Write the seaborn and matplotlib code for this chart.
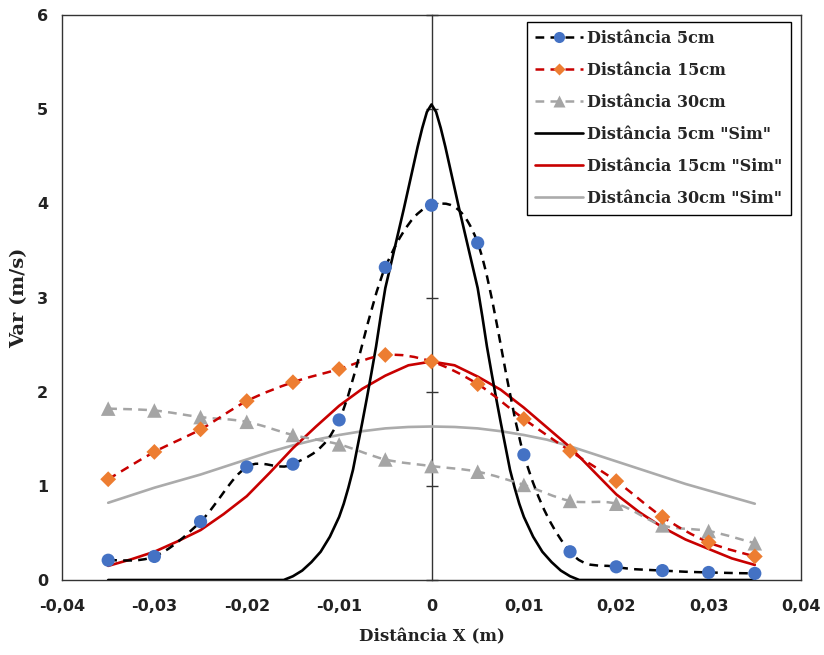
import numpy as np
import pandas as pd
import matplotlib
matplotlib.use("Agg")
import matplotlib.pyplot as plt
import seaborn as sns
from matplotlib.path import Path
from matplotlib.patches import PathPatch
from matplotlib.lines import Line2D

# ---------------- data ----------------
x_exp = [-0.035, -0.03, -0.025, -0.02, -0.015, -0.01, -0.005, 0.0,
         0.005, 0.01, 0.015, 0.02, 0.025, 0.03, 0.035]
v_5cm = [0.21, 0.25, 0.62, 1.20, 1.23, 1.70, 3.32, 3.98,
         3.58, 1.33, 0.30, 0.14, 0.10, 0.08, 0.07]
v_15cm = [1.07, 1.36, 1.60, 1.90, 2.10, 2.24, 2.39, 2.32,
          2.08, 1.71, 1.37, 1.05, 0.67, 0.40, 0.25]
v_30cm = [1.82, 1.80, 1.73, 1.68, 1.54, 1.44, 1.28, 1.21,
          1.15, 1.01, 0.84, 0.81, 0.58, 0.52, 0.39]

x_sim5 = [-0.035, -0.02, -0.016, -0.015, -0.014, -0.013, -0.012, -0.011, -0.010,
          -0.0095, -0.009, -0.0085, -0.008, -0.0075, -0.007, -0.0065, -0.006,
          -0.0055, -0.005, -0.004, -0.003, -0.002, -0.0015, -0.001, -0.0005, 0.0,
          0.0005, 0.001, 0.0015, 0.002, 0.003, 0.004, 0.005, 0.0055, 0.006, 0.0065,
          0.007, 0.0075, 0.008, 0.0085, 0.009, 0.0095, 0.010, 0.011, 0.012,
          0.013, 0.014, 0.015, 0.016, 0.02, 0.035]
v_sim5 = [0.0, 0.0, 0.0, 0.04, 0.10, 0.19, 0.30, 0.46, 0.67,
          0.81, 0.98, 1.17, 1.42, 1.67, 1.93, 2.20, 2.48,
          2.80, 3.10, 3.52, 3.94, 4.38, 4.60, 4.80, 4.97, 5.05,
          4.97, 4.80, 4.60, 4.38, 3.94, 3.52, 3.10, 2.80, 2.48, 2.20,
          1.93, 1.67, 1.42, 1.17, 0.98, 0.81, 0.67, 0.46, 0.30,
          0.19, 0.10, 0.04, 0.0, 0.0, 0.0]

x_sim = [-0.035, -0.0325, -0.03, -0.0275, -0.025, -0.0225, -0.02, -0.0175,
         -0.015, -0.0125, -0.01, -0.0075, -0.005, -0.0025, 0.0,
         0.0025, 0.005, 0.0075, 0.01, 0.0125, 0.015, 0.0175, 0.02,
         0.0225, 0.025, 0.0275, 0.03, 0.0325, 0.035]
v_sim15 = [0.15, 0.22, 0.30, 0.41, 0.53, 0.70, 0.89, 1.14,
           1.40, 1.63, 1.85, 2.03, 2.17, 2.28, 2.32,
           2.28, 2.16, 2.02, 1.83, 1.62, 1.41, 1.16, 0.91,
           0.72, 0.56, 0.43, 0.33, 0.23, 0.16]
v_sim30 = [0.82, 0.90, 0.98, 1.05, 1.12, 1.20, 1.28, 1.36,
           1.43, 1.49, 1.54, 1.58, 1.61, 1.625, 1.63,
           1.625, 1.61, 1.58, 1.54, 1.49, 1.42, 1.34, 1.26,
           1.18, 1.10, 1.02, 0.95, 0.88, 0.81]

x_ticks = [-0.04, -0.03, -0.02, -0.01, 0.0, 0.01, 0.02, 0.03, 0.04]
x_tick_labels = ["-0,04", "-0,03", "-0,02", "-0,01", "0", "0,01", "0,02", "0,03", "0,04"]
y_ticks = [0, 1, 2, 3, 4, 5, 6]
y_tick_labels = ["0", "1", "2", "3", "4", "5", "6"]

labels = ["Distância 5cm", "Distância 15cm", "Distância 30cm",
          "Distância 5cm \"Sim\"", "Distância 15cm \"Sim\"", "Distância 30cm \"Sim\""]

# ---------------- style ----------------
sns.set_style("white")
plt.rcParams["font.family"] = ["DejaVu Sans"]

BLUE = "#4472C4"
ORANGE = "#ED7D31"
GRAY_M = "#A5A5A5"
RED = "#C80000"
GRAY_L = "#ABABAB"
DASH = (0, (3.5, 2.5))
LW = 1.8
SLW = 1.9

fig = plt.figure(figsize=(8.24, 6.55), dpi=100)
ax = fig.add_axes([62 / 824, 1 - 580 / 655, (801 - 62) / 824, (580 - 15) / 655])

exp_df = pd.DataFrame({"x": x_exp, "v5": v_5cm, "v15": v_15cm, "v30": v_30cm})
sim5_df = pd.DataFrame({"x": x_sim5, "v": v_sim5})
sim_df = pd.DataFrame({"x": x_sim, "v15": v_sim15, "v30": v_sim30})


def smooth_path(xs, ys):
    """Excel-like smoothed line (Catmull-Rom as cubic Bezier)."""
    P = np.column_stack([xs, ys]).astype(float)
    n = len(P)
    verts = [P[0]]
    codes = [Path.MOVETO]
    for i in range(n - 1):
        p0 = P[i - 1] if i > 0 else P[i]
        p1 = P[i]
        p2 = P[i + 1]
        p3 = P[i + 2] if i + 2 < n else P[i + 1]
        c1 = p1 + (p2 - p0) / 6.0
        c2 = p2 - (p3 - p1) / 6.0
        verts += [c1, c2, p2]
        codes += [Path.CURVE4] * 3
    return Path(verts, codes)


# simulated curves (solid)
sns.lineplot(data=sim_df, x="x", y="v30", ax=ax, color=GRAY_L, lw=SLW, sort=False, zorder=3)
sns.lineplot(data=sim_df, x="x", y="v15", ax=ax, color=RED, lw=SLW, sort=False, zorder=3)
sns.lineplot(data=sim5_df, x="x", y="v", ax=ax, color="black", lw=SLW, sort=False, zorder=3)

# experimental curves (dashed, smoothed)
for col, c in [("v30", GRAY_M), ("v15", RED), ("v5", "black")]:
    patch = PathPatch(smooth_path(exp_df["x"], exp_df[col]), fill=False,
                      edgecolor=c, lw=LW, linestyle=DASH, zorder=4, capstyle="butt")
    ax.add_patch(patch)

# markers
sns.scatterplot(data=exp_df, x="x", y="v30", ax=ax, marker="^", s=110, color=GRAY_M,
                edgecolor="none", zorder=5)
sns.scatterplot(data=exp_df, x="x", y="v15", ax=ax, marker="D", s=65, color=ORANGE,
                edgecolor="none", zorder=5)
sns.scatterplot(data=exp_df, x="x", y="v5", ax=ax, marker="o", s=90, color=BLUE,
                edgecolor="none", zorder=5)

# axes
ax.set_xlim(-0.04, 0.04)
ax.set_ylim(0, 6)
ax.set_xticks(x_ticks)
ax.set_xticklabels(x_tick_labels)
ax.set_yticks(y_ticks)
ax.set_yticklabels(y_tick_labels)
for lab in ax.get_xticklabels() + ax.get_yticklabels():
    lab.set_fontweight("bold")
    lab.set_fontsize(11.5)
    lab.set_color("#222222")
ax.tick_params(axis="x", direction="inout", length=10, width=1, color="#333333", pad=9)
ax.tick_params(axis="y", length=0, pad=10)
for s in ax.spines.values():
    s.set_visible(True)
    s.set_color("#333333")
    s.set_linewidth(1.0)

# vertical axis crossing at x = 0 with tick marks
ax2 = ax.twinx()
ax2.set_ylim(0, 6)
ax2.set_yticks(y_ticks)
ax2.set_yticklabels([])
for k, s in ax2.spines.items():
    s.set_visible(k == "right")
ax2.spines["right"].set_position(("data", 0.0))
ax2.spines["right"].set_color("#333333")
ax2.spines["right"].set_linewidth(1.0)
ax2.tick_params(axis="y", direction="inout", length=9, width=1, color="#333333")
ax2.set_zorder(0)
ax.set_zorder(1)
ax.patch.set_visible(False)

ax.set_xlabel("Distância X (m)", family="DejaVu Serif", fontweight="bold", fontsize=12,
              labelpad=10, color="#222222")
ax.set_ylabel("Var (m/s)", family="DejaVu Serif", fontweight="bold", fontsize=14,
              labelpad=6, color="#222222")

# legend
handles = [
    Line2D([], [], color="black", lw=LW, linestyle=DASH, marker="o", markersize=8,
           markerfacecolor=BLUE, markeredgecolor="none"),
    Line2D([], [], color=RED, lw=LW, linestyle=DASH, marker="D", markersize=6,
           markerfacecolor=ORANGE, markeredgecolor="none"),
    Line2D([], [], color=GRAY_M, lw=LW, linestyle=DASH, marker="^", markersize=8,
           markerfacecolor=GRAY_M, markeredgecolor="none"),
    Line2D([], [], color="black", lw=SLW),
    Line2D([], [], color=RED, lw=SLW),
    Line2D([], [], color=GRAY_L, lw=SLW),
]
leg = ax.legend(handles, labels, loc="upper right", bbox_to_anchor=(0.986, 0.988),
                borderaxespad=0, frameon=True, fancybox=False, framealpha=1,
                edgecolor="black", handlelength=3.0, handletextpad=0.3,
                labelspacing=0.94, borderpad=0.5,
                prop={"family": "DejaVu Serif", "weight": "bold", "size": 11.5})
leg.get_frame().set_linewidth(1.0)
leg.set_zorder(10)

fig.savefig("out.png", dpi=100)
